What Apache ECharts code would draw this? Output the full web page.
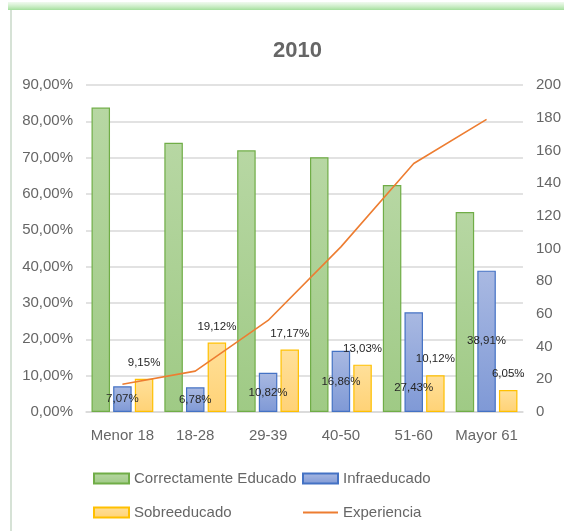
<!DOCTYPE html>
<html><head><meta charset="utf-8">
<script src="https://cdn.jsdelivr.net/npm/echarts@6/dist/echarts.min.js"></script>
<style>html,body{margin:0;padding:0;background:#fff}#c{width:564px;height:531px}</style>
</head><body><div id="c"></div>
<script>
const categories = ['Menor 18', '18-28', '29-39', '40-50', '51-60', 'Mayor 61'];
const correctamente = [83.78, 74.10, 72.01, 70.11, 62.45, 55.04];
const infraeducado = [7.07, 6.78, 10.82, 16.86, 27.43, 38.91];
const sobreeducado = [9.15, 19.12, 17.17, 13.03, 10.12, 6.05];
const experiencia = [17, 25, 56, 101, 152, 179];
const leftTicks = {min: 0, max: 90, interval: 10};
const rightTicks = {min: 0, max: 200, interval: 20};

const FONT = "'Liberation Sans', Arial, sans-serif";
const pct = v => v.toFixed(2).replace('.', ',') + '%';
const grad = (a, b) => new echarts.graphic.LinearGradient(0, 0, 0, 1, [{offset: 0, color: a}, {offset: 1, color: b}]);

const chart = echarts.init(document.getElementById('c'), null, {renderer: 'canvas'});
const labelStyle = {fontFamily: FONT, fontSize: 11.5, color: '#262626'};
const legendText = {fontFamily: FONT, fontSize: 15, color: '#666'};
chart.setOption({
  animation: false,
  backgroundColor: '#fff',
  title: {text: '2010', left: 268, top: 35, textStyle: {fontFamily: FONT, fontSize: 22, fontWeight: 'bold', color: '#666'}},
  graphic: [
    {type: 'rect', shape: {x: 8, y: 2, width: 556, height: 8}, style: {fill: grad('rgba(180,230,170,0.2)', 'rgba(140,215,130,0.8)')}, silent: true},
    {type: 'line', shape: {x1: 11, y1: 10, x2: 11, y2: 531}, style: {stroke: '#c8d8c8', lineWidth: 1.5}, silent: true}
  ],
  legend: [
    {orient: 'vertical', left: 88, top: 466, itemWidth: 35, itemHeight: 10, itemGap: 19, icon: 'rect',
     textStyle: legendText, data: ['Correctamente Educado', 'Sobreeducado']},
    {orient: 'vertical', left: 297, top: 466, itemWidth: 35, itemHeight: 10, itemGap: 19,
     textStyle: legendText,
     data: [{name: 'Infraeducado', icon: 'rect'}, {name: 'Experiencia', itemStyle: {opacity: 0}}]}
  ],
  grid: {left: 86, right: 39, top: 85, bottom: 119, containLabel: false},
  xAxis: {type: 'category', data: categories,
    axisLine: {lineStyle: {color: '#d9d9d9', width: 1.5}}, axisTick: {show: false},
    axisLabel: {interval: 0, fontFamily: FONT, fontSize: 15, color: '#666', margin: 16}},
  yAxis: [
    {type: 'value', min: leftTicks.min, max: leftTicks.max, interval: leftTicks.interval,
     axisLabel: {formatter: pct, fontFamily: FONT, fontSize: 15, color: '#666', margin: 13},
     splitLine: {lineStyle: {color: '#d9d9d9', width: 1.5}}, axisLine: {show: false}, axisTick: {show: false}},
    {type: 'value', min: rightTicks.min, max: rightTicks.max, interval: rightTicks.interval,
     axisLabel: {fontFamily: FONT, fontSize: 15, color: '#666', margin: 13},
     splitLine: {show: false}, axisLine: {show: false}, axisTick: {show: false}}
  ],
  series: [
    {name: 'Correctamente Educado', type: 'bar', data: correctamente, barWidth: 18.5, barGap: '17%',
     itemStyle: {color: grad('#b7d7a3', '#9fca85'), borderColor: '#70ad47', borderWidth: 1.2}},
    {name: 'Infraeducado', type: 'bar', barWidth: 18.5, barGap: '17%',
     data: infraeducado.map((v, i) => i === 4 ? {value: v, label: {offset: [0, 26]}} : v),
     itemStyle: {color: grad('#a9b9e2', '#7f99d6'), borderColor: '#4472c4', borderWidth: 1.2},
     label: Object.assign({show: true, position: 'inside', formatter: p => pct(p.value)}, labelStyle)},
    {name: 'Sobreeducado', type: 'bar', data: sobreeducado, barWidth: 18.5, barGap: '17%',
     itemStyle: {color: grad('#ffe09a', '#ffd276'), borderColor: '#ffc000', borderWidth: 1.2},
     label: Object.assign({show: true, position: 'top', distance: 10, formatter: p => pct(p.value)}, labelStyle)},
    {name: 'Experiencia', type: 'line', yAxisIndex: 1, data: experiencia, symbol: 'none',
     lineStyle: {color: '#ed7d31', width: 1.6}, itemStyle: {color: '#ed7d31'}}
  ]
});
</script></body></html>
